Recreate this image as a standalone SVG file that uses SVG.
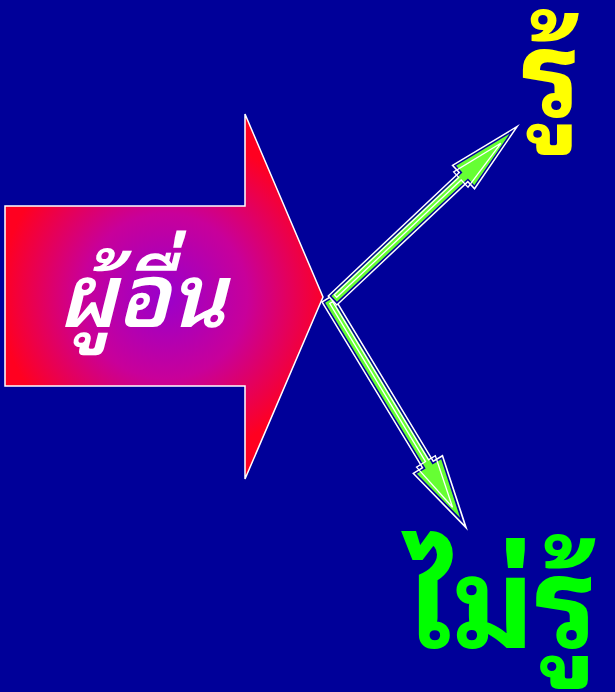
<svg xmlns="http://www.w3.org/2000/svg" width="615" height="692" viewBox="0 0 615 692">
<defs>
<radialGradient id="bigGrad" gradientUnits="userSpaceOnUse" cx="165" cy="296" r="165">
<stop offset="0" stop-color="#9900cc"/>
<stop offset="0.5" stop-color="#c8009a"/>
<stop offset="1" stop-color="#ff0020"/>
</radialGradient>
<style>
.edge{fill:#ffffff}
.gap{fill:#000099}
.body{fill:#66ff33}
.line{fill:none;stroke:#ffffff;stroke-width:1.3;stroke-linejoin:miter}
.thai{font-family:"Noto Sans Thai Looped","Noto Serif Thai","Tlwg Typo","Loma","Garuda","Norasi","Laksaman","Sarabun","Tahoma","Noto Sans Thai",sans-serif;font-weight:bold}
</style>
</defs>
<rect width="615" height="692" fill="#000099"/>
<g id="node-big-arrow">
<polygon points="5,206 245,206 245,114 323,297 245,479 245,386 5,386" fill="url(#bigGrad)" stroke="#ffffff" stroke-width="1.5"/>
<text x="142" y="327" text-anchor="middle" fill="#ffffff" font-size="88" font-style="italic" class="thai" style="font-weight:600">ผู้อื่น</text>
</g>
<g id="connectors">
<g id="arrow-down" transform="translate(327,298) rotate(58.8)">
<polygon class="edge" points="0,-7 194,-7 194,-18 272,0 194,18 194,7 0,7"/>
<polygon class="gap" points="1.5,-5.5 195.5,-5.5 195.5,-16.1 264.5,0 195.5,16.1 195.5,5.5 1.5,5.5"/>
<polygon class="body" points="3,-4 197,-4 197,-14.2 257,0 197,14.2 197,4 3,4"/>
<polygon class="line" points="6,-3 191,-3 191,-11 244,1 191,11 191,0.5 6,0.5"/>
</g>
<g id="arrow-up" transform="translate(332,301) rotate(-43.3)">
<polygon class="edge" points="0,-7 180,-7 180,-17 258,0 180,17 180,7 0,7"/>
<polygon class="gap" points="1.5,-5.5 181.5,-5.5 181.5,-15.1 251,0 181.5,15.1 181.5,5.5 1.5,5.5"/>
<polygon class="body" points="3,-4 183,-4 183,-13.3 244,0 183,13.3 183,4 3,4"/>
<polygon class="line" points="6,-3 177,-3 177,-10.5 231,1 177,10.5 177,0.5 6,0.5"/>
</g>
</g>
<g id="node-know">
<text x="551" y="117" text-anchor="middle" fill="#ffff00" font-size="118" class="thai">รู้</text>
</g>
<g id="node-not-know">
<text x="502" y="648" text-anchor="middle" fill="#00ff00" font-size="125" class="thai">ไม่รู้</text>
</g>
</svg>
